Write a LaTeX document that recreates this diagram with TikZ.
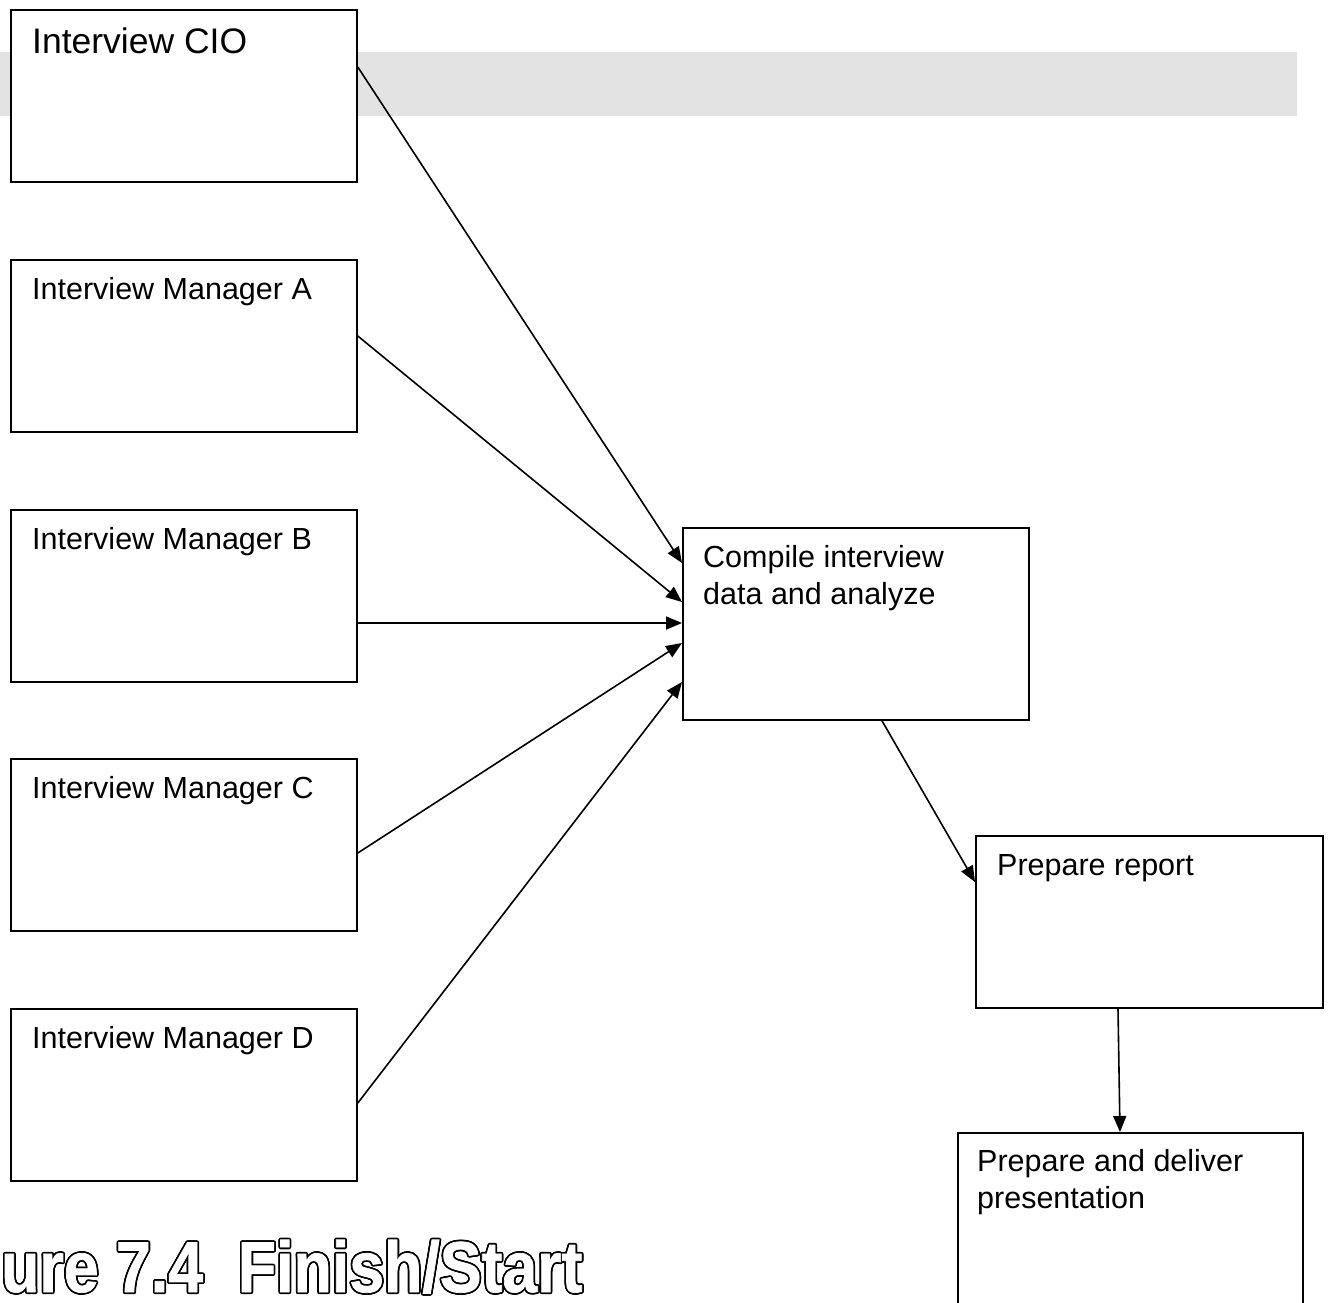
\documentclass[tikz,border=0pt]{standalone}
\usepackage{fontspec}
\setmainfont{Liberation Sans}
\newfontfamily\titlefont[FakeStretch=0.87,FakeBold=1]{Liberation Sans Bold}
\usetikzlibrary{arrows.meta,calc}
\definecolor{band}{RGB}{227,227,227}
\begin{document}
\begin{tikzpicture}[x=1pt,y=-1pt,
  box/.style={draw,line width=1.8pt,fill=white,rectangle,inner sep=0pt,anchor=north west,
    minimum width=346pt,minimum height=172pt},
  lbl/.style={anchor=base west,inner sep=0pt,align=left,font=\fontsize{30.5}{37}\selectfont},
  arr/.style={line width=1.6pt,-{Triangle[length=16pt,width=13pt]}},
  ttl/.style={anchor=base west,inner sep=0pt,font=\titlefont\fontsize{72}{76}\selectfont}]
\useasboundingbox (0,0) rectangle (1328,1302);
\clip (0,0) rectangle (1328,1302);
\fill[band] (0,52) rectangle (1297,116);

\node[box] (cio) at (10,9) {};
\node[box] (ma) at (10,259) {};
\node[box] (mb) at (10,509) {};
\node[box] (mc) at (10,758) {};
\node[box] (md) at (10,1008) {};
\node[box,minimum height=192pt] (comp) at (682,527) {};
\node[box,minimum width=347pt] (rep) at (975,835) {};
\node[box,minimum width=345pt,minimum height=260pt] (del) at (957,1132) {};

\node[lbl,font=\fontsize{35.5}{40}\selectfont] (tcio) at ($(cio.north west)+(22,44)$) {Interview CIO};
\node[lbl] (tma) at ($(ma.north west)+(22,40)$) {Interview Manager A};
\node[lbl] (tmb) at ($(mb.north west)+(22,40)$) {Interview Manager B};
\node[lbl] (tmc) at ($(mc.north west)+(22,40)$) {Interview Manager C};
\node[lbl] (tmd) at ($(md.north west)+(22,40)$) {Interview Manager D};
\node[lbl] (tcomp) at ($(comp.north west)+(21,77)$) {Compile interview\\data and analyze};
\node[lbl] (trep) at ($(rep.north west)+(22,40)$) {Prepare report};
\node[lbl] (tdel) at ($(del.north west)+(20,76)$) {Prepare and deliver\\presentation};

\coordinate (s1) at ($(cio.north east)+(0,58)$);
\coordinate (s2) at ($(ma.north east)+(0,77)$);
\coordinate (s3) at ($(mb.north east)+(0,114)$);
\coordinate (s4) at ($(mc.north east)+(0,95)$);
\coordinate (s5) at ($(md.north east)+(0,95)$);
\coordinate (e1) at ($(comp.north west)+(0,36)$);
\coordinate (e2) at ($(comp.north west)+(0,75)$);
\coordinate (e3) at ($(comp.north west)+(0,96)$);
\coordinate (e4) at ($(comp.north west)+(0,116)$);
\coordinate (e5) at ($(comp.north west)+(0,155)$);
\draw[arr] (s1) -- (e1);
\draw[arr] (s2) -- (e2);
\draw[arr] (s3) -- (e3);
\draw[arr] (s4) -- (e4);
\draw[arr] (s5) -- (e5);
\coordinate (s6) at ($(comp.south west)+(200,0)$);
\coordinate (e6) at ($(rep.north west)+(0,47)$);
\draw[arr] (s6) -- (e6);
\coordinate (s7) at ($(rep.south west)+(143,0)$);
\coordinate (e7) at ($(del.north west)+(163,0)$);
\draw[arr] (s7) -- (e7);

\coordinate (tpos) at (1,1292);
\foreach \a [count=\i] in {0,22.5,...,337.5}
  \node[ttl,text=black] (tt\i) at ($(tpos)+(\a:1.7)$) {ure 7.4\ \ Finish/Start};
\node[ttl,text=white] (title) at (tpos) {ure 7.4\ \ Finish/Start};
\end{tikzpicture}
\end{document}
